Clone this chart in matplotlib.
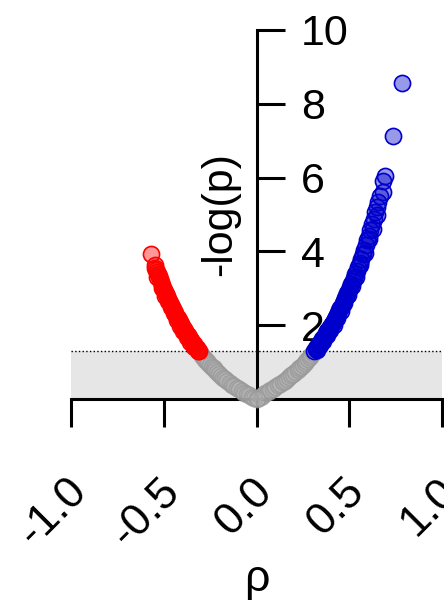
# -*- coding: utf-8 -*-
"""
Volcano-style plot of correlation coefficient vs -log(p)
"""

import matplotlib.pyplot as plt
import matplotlib.transforms as mtransforms

plt.rcParams['font.family'] = ['Liberation Sans', 'DejaVu Sans']

#%% data

# significant negative correlations (red)
red_rho = [-0.568, -0.550, -0.546, -0.541, -0.537, -0.533, -0.528, -0.521, -0.514,
           -0.508, -0.502, -0.497, -0.491, -0.486, -0.481, -0.476, -0.470, -0.465,
           -0.460, -0.455, -0.450, -0.444, -0.438, -0.432, -0.426, -0.420, -0.414,
           -0.407, -0.400, -0.393, -0.386, -0.378, -0.371, -0.363, -0.355, -0.347,
           -0.339, -0.331, -0.323, -0.315, -0.310,
           -0.535, -0.512, -0.492, -0.478, -0.462, -0.446, -0.428, -0.410, -0.395,
           -0.376, -0.358, -0.336, -0.318]
red_logp = [3.93, 3.62, 3.56, 3.50, 3.45, 3.39, 3.33, 3.24, 3.16,
            3.09, 3.02, 2.96, 2.89, 2.84, 2.78, 2.72, 2.66, 2.60,
            2.55, 2.50, 2.44, 2.38, 2.32, 2.26, 2.20, 2.15, 2.09,
            2.03, 1.97, 1.91, 1.85, 1.78, 1.73, 1.67, 1.61, 1.55,
            1.49, 1.43, 1.37, 1.32, 1.31,
            3.30, 3.02, 2.80, 2.66, 2.49, 2.33, 2.15, 1.98, 1.85,
            1.69, 1.55, 1.40, 1.31]

# non-significant correlations (gray)
gray_rho = [-0.300, -0.292, -0.284, -0.276, -0.268, -0.259, -0.250, -0.241, -0.232,
            -0.222, -0.212, -0.202, -0.191, -0.180, -0.169, -0.157, -0.145, -0.133,
            -0.120, -0.107, -0.094, -0.080, -0.066, -0.052, -0.038, -0.024, -0.012,
            0.010, 0.022, 0.035, 0.048, 0.061, 0.074, 0.088, 0.101, 0.114,
            0.127, 0.140, 0.152, 0.164, 0.176, 0.188, 0.199, 0.210, 0.221,
            0.231, 0.241, 0.251, 0.260, 0.269, 0.278, 0.287, 0.295, 0.303,
            0.000]
gray_logp = [1.22, 1.17, 1.11, 1.06, 1.02, 0.97, 0.92, 0.87, 0.83,
             0.78, 0.73, 0.68, 0.63, 0.58, 0.53, 0.48, 0.44, 0.39,
             0.35, 0.30, 0.26, 0.22, 0.17, 0.13, 0.10, 0.06, 0.03,
             0.03, 0.06, 0.11, 0.15, 0.19, 0.24, 0.28, 0.32, 0.37,
             0.41, 0.46, 0.50, 0.55, 0.60, 0.65, 0.69, 0.74, 0.79,
             0.84, 0.88, 0.93, 0.98, 1.03, 1.08, 1.14, 1.19, 1.24,
             0.00]

# significant positive correlations (blue)
blue_rho = [0.312, 0.318, 0.322, 0.327, 0.331, 0.336, 0.340, 0.345, 0.349, 0.354,
            0.358, 0.363, 0.368, 0.372, 0.377, 0.382, 0.387, 0.392, 0.397, 0.402,
            0.407, 0.412, 0.418, 0.423, 0.429, 0.434, 0.440, 0.446, 0.452, 0.458,
            0.464, 0.470, 0.477, 0.483, 0.490, 0.497, 0.504, 0.511, 0.518, 0.525,
            0.532, 0.540, 0.548, 0.556, 0.564, 0.572, 0.580, 0.588, 0.596, 0.604,
            0.613, 0.622, 0.631, 0.640, 0.648, 0.656, 0.664, 0.684, 0.690, 0.737,
            0.785,
            0.325, 0.343, 0.360, 0.380, 0.398, 0.415, 0.436, 0.455, 0.474, 0.494,
            0.515, 0.536, 0.560, 0.584, 0.608, 0.627, 0.650, 0.680]
blue_logp = [1.31, 1.35, 1.38, 1.42, 1.45, 1.48, 1.52, 1.55, 1.58, 1.62,
             1.65, 1.68, 1.72, 1.75, 1.79, 1.83, 1.87, 1.90, 1.94, 1.98,
             2.02, 2.07, 2.12, 2.17, 2.23, 2.28, 2.34, 2.40, 2.46, 2.52,
             2.59, 2.66, 2.74, 2.80, 2.88, 2.96, 3.04, 3.12, 3.21, 3.29,
             3.38, 3.48, 3.59, 3.69, 3.80, 3.92, 4.04, 4.17, 4.30, 4.43,
             4.58, 4.73, 4.89, 5.06, 5.20, 5.35, 5.50, 5.92, 6.05, 7.14,
             8.57,
             1.33, 1.46, 1.58, 1.73, 1.87, 2.01, 2.20, 2.38, 2.59, 2.81,
             3.05, 3.31, 3.62, 3.97, 4.33, 4.62, 4.98, 5.62]

# significance threshold, -log10(0.05)
threshold = 1.301

x_ticks = [-1.0, -0.5, 0.0, 0.5, 1.0]
x_ticklabels = ['-1.0', '-0.5', '0.0', '0.5', '1.0']
y_ticks = [2, 4, 6, 8, 10]

#%% plot

fig = plt.figure(figsize=(4.44, 6.06), dpi=100)
ax = fig.add_axes([0.16, 0.3416, 0.8356, 0.6089])

# shaded non-significant band and threshold line
ax.axhspan(0, threshold, color='#e6e6e6', zorder=0, lw=0)
ax.axhline(threshold, color='black', ls=':', lw=1, zorder=1)

ms = 135
ax.scatter(gray_rho, gray_logp, s=ms, facecolor=(0.7, 0.7, 0.7, 0.3),
           edgecolor=(0.6, 0.6, 0.6, 0.75), lw=1.2, clip_on=False, zorder=3)
ax.scatter(red_rho, red_logp, s=ms, facecolor=(1, 0, 0, 0.4),
           edgecolor='#ff0000', lw=1.2, clip_on=False, zorder=3)
ax.scatter(blue_rho, blue_logp, s=ms, facecolor=(0, 0, 0.8, 0.4),
           edgecolor='#0000cc', lw=1.2, clip_on=False, zorder=3)

ax.set_xlim(-1, 1)
ax.set_ylim(0, 10)

# y axis drawn through x = 0 with ticks pointing right
ax.spines['top'].set_visible(False)
ax.spines['left'].set_visible(False)
ax.spines['right'].set_position(('data', 0))
ax.spines['right'].set_linewidth(2.2)
ax.spines['bottom'].set_linewidth(2.2)
ax.yaxis.tick_right()
ax.set_yticks(y_ticks)
ax.tick_params(axis='y', direction='out', length=20, width=2.2, labelsize=31, pad=12)

ax.set_xticks(x_ticks)
ax.set_xticklabels(x_ticklabels, rotation=45, ha='right', va='center',
                   rotation_mode='anchor')
ax.tick_params(axis='x', direction='out', length=20, width=2.2, labelsize=32, pad=42)
# nudge the rotated labels a little to the right of their ticks
shift = mtransforms.ScaledTranslation(0.09, 0, fig.dpi_scale_trans)
for lab in ax.get_xticklabels():
    lab.set_transform(lab.get_transform() + shift)

ax.set_ylabel('-log(p)', fontsize=31)
ax.yaxis.set_label_position('left')
ax.yaxis.set_label_coords(0.455, 0.5)
ax.set_xlabel('ρ', fontsize=32, labelpad=4)

plt.savefig('out.png', dpi=100)
